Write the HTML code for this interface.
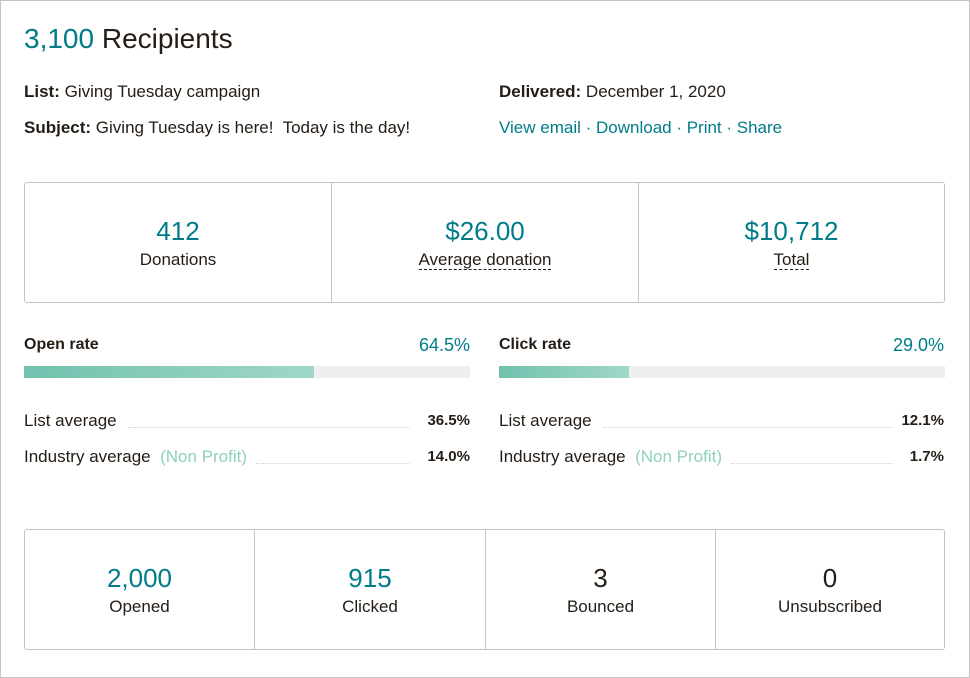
<!DOCTYPE html>
<html><head><style>
*{margin:0;padding:0;box-sizing:border-box}
body{width:970px;height:678px;background:#fff;font-family:"Liberation Sans",sans-serif;color:#241c15;position:relative;overflow:hidden}
.frame{position:absolute;left:0;top:0;width:970px;height:678px;border:1px solid #c4c4c4}
.a{position:absolute;white-space:nowrap}
.t{color:#007c89}
.box{position:absolute;border:1px solid #c5c5c5;border-radius:3px;display:flex}
.cell{flex:1;border-left:1px solid #c5c5c5;text-align:center;position:relative}
.cell:first-child{border-left:none}
.num{position:absolute;left:0;right:0;font-size:26px}
.lab{position:absolute;left:0;right:0;font-size:17px}
.u{border-bottom:1px dashed #241c15}
.track{position:absolute;height:12px;background:#efefef}
.fill{height:12px;background:linear-gradient(90deg,#72c1ae,#9fd7c9)}
.dots{position:absolute;border-top:1px dotted #cfcfcf}
</style></head><body>
<div class="frame"></div>
<div class="a" style="left:24px;top:23px;font-size:28px"><span class="t">3,100</span> Recipients</div>
<div class="a" style="left:24px;top:82px;font-size:17px"><b>List:</b> Giving Tuesday campaign</div>
<div class="a" style="left:24px;top:118px;font-size:17px"><b>Subject:</b> Giving Tuesday is here!&nbsp; Today is the day!</div>
<div class="a" style="left:499px;top:82px;font-size:17px"><b>Delivered:</b> December 1, 2020</div>
<div class="a t" style="left:499px;top:118px;font-size:17px">View email · Download · Print · Share</div>

<div class="box" style="left:24px;top:182px;width:921px;height:121px">
<div class="cell" style="flex:0 0 306px"><div class="num t" style="top:33px">412</div><div class="lab" style="top:67px">Donations</div></div>
<div class="cell" style="flex:0 0 307px"><div class="num t" style="top:33px">$26.00</div><div class="lab" style="top:67px"><span class="u">Average donation</span></div></div>
<div class="cell"><div class="num t" style="top:33px">$10,712</div><div class="lab" style="top:67px"><span class="u">Total</span></div></div>
</div>

<div class="a" style="left:24px;top:336px;font-size:16px;font-weight:bold">Open rate</div>
<div class="a t" style="left:380px;width:90px;text-align:right;top:335px;font-size:18px">64.5%</div>
<div class="track" style="left:24px;top:366px;width:446px"><div class="fill" style="width:290px"></div></div>
<div class="a" style="left:24px;top:411px;font-size:17px">List average</div>
<div class="dots" style="left:128px;top:427px;width:282px"></div>
<div class="a" style="left:400px;width:70px;text-align:right;top:412px;font-size:15px;font-weight:bold">36.5%</div>
<div class="a" style="left:24px;top:447px;font-size:17px">Industry average <span style="color:#8fd0c1">&nbsp;(Non Profit)</span></div>
<div class="dots" style="left:256px;top:463px;width:154px"></div>
<div class="a" style="left:400px;width:70px;text-align:right;top:448px;font-size:15px;font-weight:bold">14.0%</div>

<div class="a" style="left:499px;top:336px;font-size:16px;font-weight:bold">Click rate</div>
<div class="a t" style="left:854px;width:90px;text-align:right;top:335px;font-size:18px">29.0%</div>
<div class="track" style="left:499px;top:366px;width:446px"><div class="fill" style="width:130px"></div></div>
<div class="a" style="left:499px;top:411px;font-size:17px">List average</div>
<div class="dots" style="left:603px;top:427px;width:290px"></div>
<div class="a" style="left:874px;width:70px;text-align:right;top:412px;font-size:15px;font-weight:bold">12.1%</div>
<div class="a" style="left:499px;top:447px;font-size:17px">Industry average <span style="color:#8fd0c1">&nbsp;(Non Profit)</span></div>
<div class="dots" style="left:731px;top:463px;width:162px"></div>
<div class="a" style="left:874px;width:70px;text-align:right;top:448px;font-size:15px;font-weight:bold">1.7%</div>

<div class="box" style="left:24px;top:529px;width:921px;height:121px">
<div class="cell" style="flex:0 0 229px"><div class="num t" style="top:33px">2,000</div><div class="lab" style="top:67px">Opened</div></div>
<div class="cell" style="flex:0 0 231px"><div class="num t" style="top:33px">915</div><div class="lab" style="top:67px">Clicked</div></div>
<div class="cell" style="flex:0 0 230px"><div class="num" style="top:33px">3</div><div class="lab" style="top:67px">Bounced</div></div>
<div class="cell"><div class="num" style="top:33px">0</div><div class="lab" style="top:67px">Unsubscribed</div></div>
</div>
</body></html>
